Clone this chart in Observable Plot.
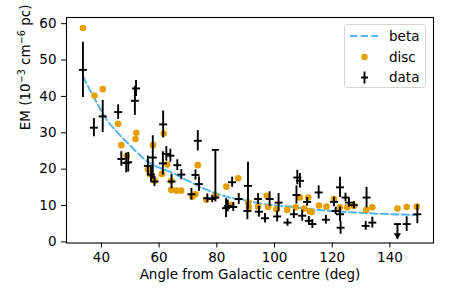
<!DOCTYPE html>
<html><head><meta charset="utf-8">
<script src="https://cdn.jsdelivr.net/npm/d3@7"></script>
<script src="https://cdn.jsdelivr.net/npm/@observablehq/plot@0.6"></script>
<style>
body{margin:0;background:#fff;}
#wrap{position:relative;width:450px;height:300px;font-family:"DejaVu Sans",sans-serif;}
#legend{position:absolute;left:344px;top:24px;width:82px;height:64px;border:1px solid #d4d4d4;border-radius:3px;background:rgba(255,255,255,0.8);box-sizing:border-box;}
</style></head><body><div id="wrap"></div>
<script>
const xTicks = [40, 60, 80, 100, 120, 140];
const yTicks = [0, 10, 20, 30, 40, 50, 60];
const xLabel = "Angle from Galactic centre (deg)";
const yLabel = "EM (10−3 cm−6 pc)";
const yLabelParts = ["EM (10", "−3", " cm", "−6", " pc)"];
const yLabelSup   = [false, true, false, true, false];
const legendLabels = ["beta", "disc", "data"];

// beta model curve
const betaAngle = [33.6, 36, 40, 42, 45, 50, 55, 60, 64, 70, 76, 84, 90, 97, 104, 111, 120, 132, 149];
const betaEM    = [45.5, 41.8, 36.0, 33.4, 30.6, 26.5, 22.7, 20.4, 19.2, 16.8, 14.5, 12.3, 11.4, 10.3, 9.8, 9.1, 8.5, 7.9, 7.4];

// disc model points
const discAngle = [33.6, 37.6, 40.45, 45.8, 46.9, 48.8, 51.8, 52.1, 56.1, 56.8, 57.9, 58.5, 61.0, 61.6, 62.8, 64.2, 64.2, 66.0, 67.6, 71.5, 72.6, 73.4, 76.3, 79.5, 83.3, 85.0, 87.4, 90.9, 91.1, 94.3, 97.3, 97.8, 100.6, 104.4, 107.3, 108.8, 110.2, 111.7, 112.2, 112.9, 115.4, 118.0, 120.6, 122.7, 125.2, 127.5, 131.8, 133.9, 142.6, 145.8, 149.3];
const discEM    = [58.8, 40.2, 42.0, 32.5, 26.6, 23.7, 28.3, 30.0, 20.0, 18.6, 26.6, 16.8, 18.7, 29.8, 21.3, 16.8, 14.3, 14.1, 14.1, 12.4, 13.1, 21.1, 11.6, 12.7, 15.2, 10.2, 17.5, 10.8, 9.5, 9.7, 12.7, 9.6, 9.0, 8.8, 9.5, 12.2, 9.2, 12.2, 8.4, 8.2, 10.0, 9.7, 11.8, 9.5, 9.5, 9.9, 8.8, 9.5, 9.2, 9.6, 9.7];

// measured data with symmetric errors
const dataAngle = [33.6, 37.4, 40.45, 45.8, 46.9, 48.6, 49.3, 51.6, 52.0, 56.1, 57.2, 57.8, 58.4, 61.3, 61.4, 62.5, 63.9, 64.3, 66.3, 67.7, 71.2, 72.6, 73.4, 73.8, 76.7, 78.4, 83.2, 83.8, 85.3, 85.7, 87.6, 90.8, 90.6, 94.3, 94.6, 96.7, 98.3, 101.4, 100.9, 104.5, 107.6, 106.7, 107.9, 108.8, 109.6, 111.3, 111.9, 113.1, 115.3, 117.8, 120.6, 121.2, 122.7, 122.7, 122.9, 124.6, 125.8, 127.5, 131.9, 131.6, 133.9, 145.8, 149.5];
const dataEM    = [47.3, 31.4, 34.5, 35.7, 22.8, 21.7, 21.9, 38.8, 42.2, 20.9, 18.5, 23.2, 16.6, 21.6, 32.3, 24.2, 23.7, 16.6, 21.1, 18.5, 13.1, 18.4, 27.8, 15.9, 12.0, 11.8, 9.3, 9.9, 16.4, 9.6, 11.8, 15.4, 8.5, 11.8, 8.3, 6.5, 11.8, 10.8, 7.0, 5.3, 12.9, 7.6, 17.7, 16.8, 7.2, 11.0, 5.8, 4.9, 13.6, 6.1, 11.0, 8.5, 15.0, 7.6, 3.9, 12.2, 10.8, 10.1, 12.2, 4.4, 5.3, 4.9, 7.6];
const dataErr   = [7.6, 2.5, 4.4, 2.0, 2.0, 2.7, 2.7, 4.0, 2.2, 2.7, 2.0, 6.0, 1.4, 3.2, 3.7, 2.0, 1.8, 2.0, 1.5, 1.4, 1.6, 1.4, 2.8, 2.0, 1.2, 1.0, 2.6, 1.6, 1.4, 1.2, 1.5, 6.5, 2.4, 1.5, 1.5, 1.3, 2.0, 2.5, 1.5, 1.0, 2.5, 1.2, 2.0, 2.0, 1.5, 1.2, 1.2, 1.2, 1.8, 1.2, 1.3, 1.0, 2.8, 2.0, 1.8, 1.2, 1.2, 1.0, 2.8, 1.2, 1.5, 2.0, 2.6];

// point with an asymmetric, capped error bar
const capAngle = [79.5];
const capEM    = [12.2];
const capLow   = [11.0];
const capHigh  = [25.3];

// upper limit
const limAngle = [142.6];
const limEM    = [4.9];
const limLen   = [4.2];

const blue = "#56B4E9", orange = "#E69F00";
const hbar = {draw(ctx, size) {const r = Math.sqrt(size / Math.PI); ctx.moveTo(-r, 0); ctx.lineTo(r, 0);}};
const arrowDown = {draw(ctx, size) {const r = Math.sqrt(size / Math.PI); ctx.moveTo(0, 0); ctx.lineTo(-r, -r * 1.7); ctx.lineTo(r, -r * 1.7); ctx.closePath();}};

const bi = d3.range(betaAngle.length), di = d3.range(discAngle.length), mi = d3.range(dataAngle.length);
const ci = d3.range(capAngle.length), li = d3.range(limAngle.length);

const chart = Plot.plot({
  width: 450, height: 300,
  marginLeft: 66, marginRight: 17, marginTop: 17, marginBottom: 57.5,
  style: {fontFamily: "DejaVu Sans, sans-serif", fontSize: "13.5px", background: "#fff", color: "#000"},
  x: {domain: [27.9, 155.1], ticks: xTicks, tickSize: 5, tickPadding: 4, label: null},
  y: {domain: [-0.3, 61.7], ticks: yTicks, tickSize: 5, tickPadding: 5, label: null},
  marks: [
    Plot.line(bi, {x: i => betaAngle[i], y: i => betaEM[i], stroke: blue, strokeWidth: 2, strokeDasharray: "7.4,3.2", curve: "monotone-x"}),
    Plot.dot(di, {x: i => discAngle[i], y: i => discEM[i], r: 3.3, fill: orange, stroke: "none"}),
    Plot.ruleX(mi, {x: i => dataAngle[i], y1: i => dataEM[i] - dataErr[i], y2: i => dataEM[i] + dataErr[i], stroke: "black", strokeWidth: 1.9}),
    Plot.dot(mi, {x: i => dataAngle[i], y: i => dataEM[i], symbol: hbar, r: 4, stroke: "black", strokeWidth: 1.9, fill: "none"}),
    Plot.ruleX(ci, {x: i => capAngle[i], y1: i => capLow[i], y2: i => capHigh[i], stroke: "black", strokeWidth: 1.9}),
    Plot.dot(ci, {x: i => capAngle[i], y: i => capEM[i], symbol: hbar, r: 4, stroke: "black", strokeWidth: 1.9, fill: "none"}),
    Plot.dot(ci, {x: i => capAngle[i], y: i => capHigh[i], symbol: hbar, r: 3.5, stroke: "black", strokeWidth: 1.9, fill: "none"}),
    Plot.ruleX(li, {x: i => limAngle[i], y1: i => limEM[i] - limLen[i], y2: i => limEM[i], stroke: "black", strokeWidth: 1.9}),
    Plot.dot(li, {x: i => limAngle[i], y: i => limEM[i], symbol: hbar, r: 3.5, stroke: "black", strokeWidth: 1.9, fill: "none"}),
    Plot.dot(li, {x: i => limAngle[i], y: i => limEM[i] - limLen[i], symbol: arrowDown, r: 3.6, fill: "black", stroke: "none"}),
    Plot.frame({stroke: "black", strokeWidth: 1.1}),
    Plot.text([xLabel], {frameAnchor: "bottom", dy: 36, fontSize: 13.5, fill: "black"}),
    Plot.text([yLabel], {frameAnchor: "left", dx: -41, rotate: -90, fontSize: 13.5, fill: "black"})
  ]
});
const wrap = document.getElementById("wrap");
wrap.appendChild(chart);

// render superscripts in the y label
d3.select(chart).selectAll("text").filter(function() { return this.textContent === yLabel; }).each(function() {
  const t = d3.select(this);
  t.text(null);
  yLabelParts.forEach((p, k) => {
    const s = t.append("tspan").text(p);
    if (yLabelSup[k]) s.attr("font-size", 9.6).attr("baseline-shift", "5.5");
  });
});

// legend overlay
const leg = d3.select(wrap).append("div").attr("id", "legend");
const lsvg = leg.append("svg").attr("width", 80).attr("height", 62).style("display", "block");
const rows = [11, 32, 52.5];
lsvg.append("line").attr("x1", 5).attr("x2", 33).attr("y1", rows[0]).attr("y2", rows[0])
  .attr("stroke", blue).attr("stroke-width", 2).attr("stroke-dasharray", "7.4,3.2");
lsvg.append("circle").attr("cx", 19.5).attr("cy", rows[1]).attr("r", 3.3).attr("fill", orange);
lsvg.append("line").attr("x1", 19.5).attr("x2", 19.5).attr("y1", rows[2] - 6).attr("y2", rows[2] + 6).attr("stroke", "black").attr("stroke-width", 1.9);
lsvg.append("line").attr("x1", 16).attr("x2", 23).attr("y1", rows[2]).attr("y2", rows[2]).attr("stroke", "black").attr("stroke-width", 1.9);
lsvg.selectAll("text.l").data(legendLabels).join("text").attr("class", "l")
  .attr("x", 44).attr("y", (d, i) => rows[i]).attr("dy", "0.35em")
  .attr("font-family", "DejaVu Sans, sans-serif").attr("font-size", 13.5).text(d => d);
</script></body></html>
